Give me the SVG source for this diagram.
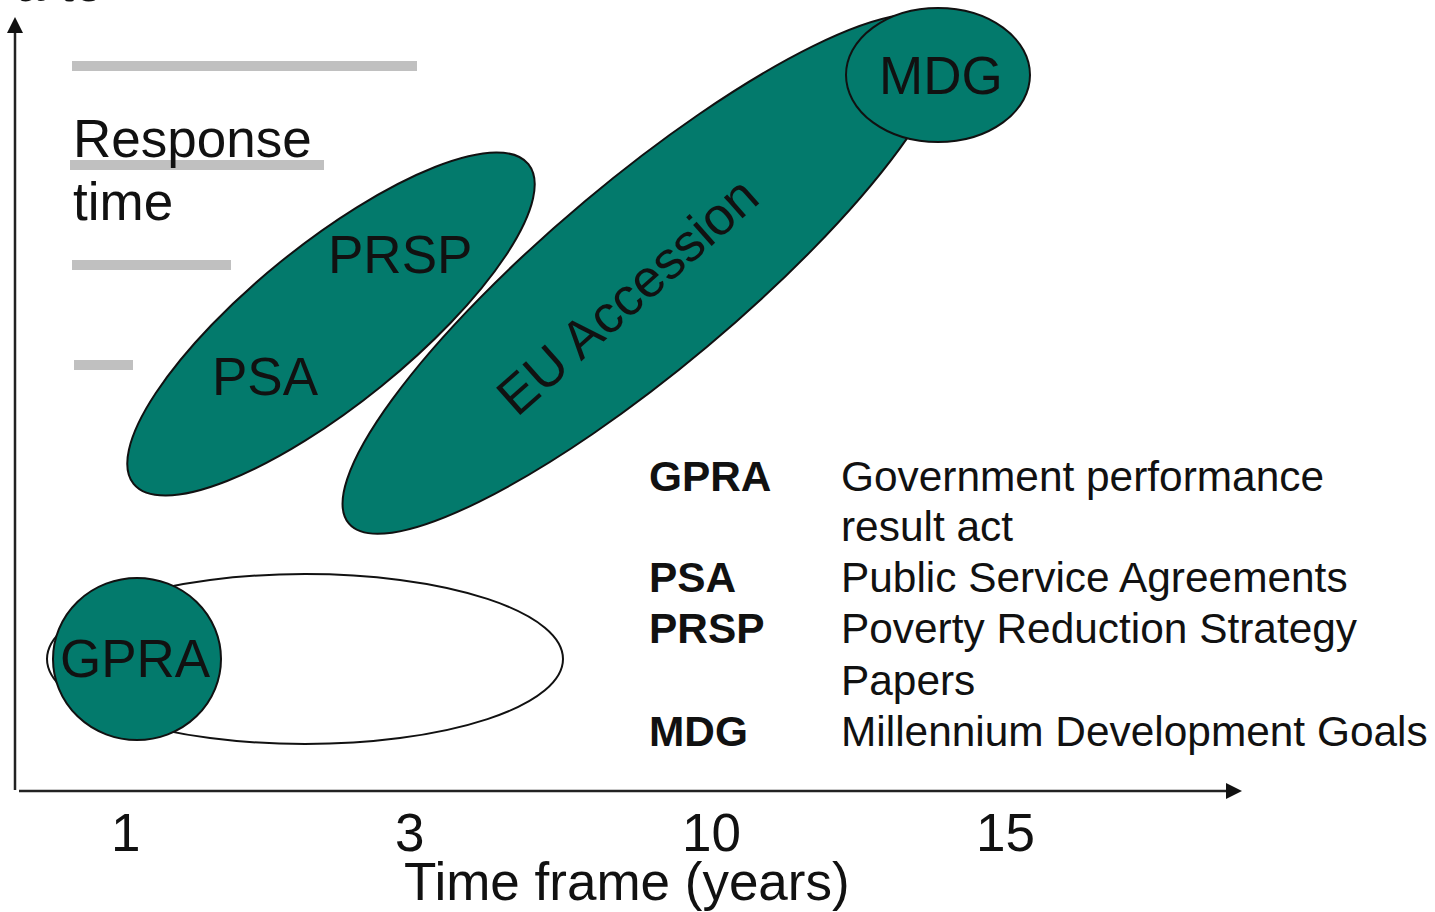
<svg xmlns="http://www.w3.org/2000/svg" width="1435" height="912" viewBox="0 0 1435 912">
<style>
.t{font-family:"Liberation Sans",Arial,sans-serif;fill:#111;}
.big{font-size:53px;}
.leg{font-size:42.4px;}
.b{font-weight:bold;}
.teal{fill:#037a6c;stroke:#111;stroke-width:2;}
.bar{fill:#c0c0c0;}
.axis{stroke:#222;stroke-width:2.5;fill:none;}
</style>
<rect width="1435" height="912" fill="#fff"/>
<text class="t big" x="15" y="1">a to</text>
<g id="bars">
<rect class="bar" x="72" y="61" width="345" height="10"/>
<rect class="bar" x="70" y="160" width="254" height="10"/>
<rect class="bar" x="72" y="260" width="159" height="10"/>
<rect class="bar" x="74" y="360" width="59" height="10"/>
</g>
<g id="response-label">
<text class="t big" x="73" y="157">Response</text>
<text class="t big" x="73" y="220">time</text>
</g>
<g id="psa-prsp">
<ellipse class="teal" cx="331" cy="324" rx="254" ry="80" transform="rotate(-39 331 324)"/>
<text class="t big" x="328" y="273">PRSP</text>
<text class="t big" x="212" y="395">PSA</text>
</g>
<g id="eu">
<ellipse class="teal" cx="646" cy="274" rx="388" ry="95" transform="rotate(-40 646 274)"/>
<text class="t big" x="517" y="418" transform="rotate(-41.5 517 418)">EU Accession</text>
</g>
<g id="mdg">
<ellipse class="teal" cx="938" cy="75" rx="92" ry="67"/>
<text class="t big" x="879" y="94">MDG</text>
</g>
<g id="gpra">
<ellipse cx="305" cy="659" rx="258" ry="85" fill="#fff" stroke="#111" stroke-width="2"/>
<ellipse class="teal" cx="137" cy="659" rx="84" ry="81"/>
<text class="t big" x="60" y="677">GPRA</text>
</g>
<g id="connectors">
<line class="axis" x1="15" y1="790" x2="15" y2="30"/>
<polygon points="15,17 7,33 23,33" fill="#111"/>
<line class="axis" x1="19" y1="791" x2="1230" y2="791"/>
<polygon points="1242,791 1226,783 1226,799" fill="#111"/>
</g>
<g id="x-labels">
<text class="t big" x="111" y="851">1</text>
<text class="t big" x="395" y="851">3</text>
<text class="t big" x="682" y="851">10</text>
<text class="t big" x="976" y="851">15</text>
<text class="t big" x="404" y="900">Time frame (years)</text>
</g>
<g id="legend">
<text class="t leg b" x="649" y="491">GPRA</text>
<text class="t leg" x="841" y="491">Government performance</text>
<text class="t leg" x="841" y="541">result act</text>
<text class="t leg b" x="649" y="592">PSA</text>
<text class="t leg" x="841" y="592">Public Service Agreements</text>
<text class="t leg b" x="649" y="643">PRSP</text>
<text class="t leg" x="841" y="643">Poverty Reduction Strategy</text>
<text class="t leg" x="841" y="695">Papers</text>
<text class="t leg b" x="649" y="746">MDG</text>
<text class="t leg" x="841" y="746">Millennium Development Goals</text>
</g>
</svg>
